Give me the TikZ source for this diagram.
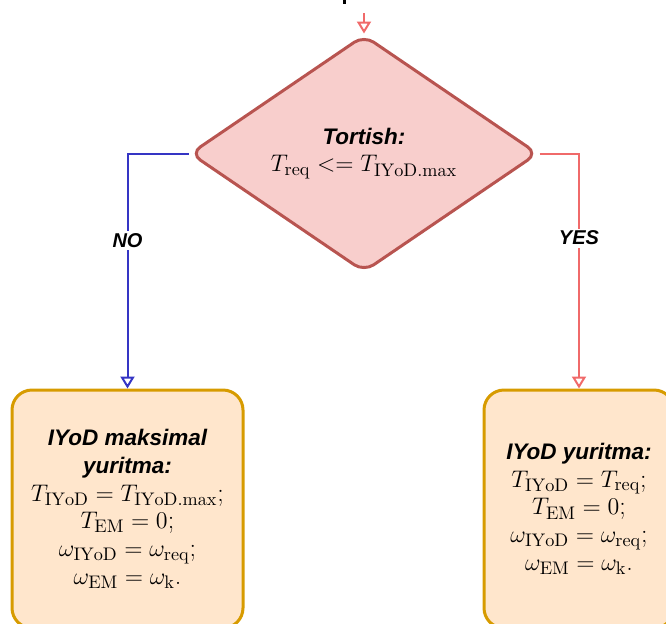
\documentclass[tikz,border=0pt]{standalone}
\usepackage{fontspec}
\setsansfont{Liberation Sans}
\usetikzlibrary{arrows.meta,shapes.geometric}

\definecolor{condfill}{HTML}{F8CECC}
\definecolor{conddraw}{HTML}{B85450}
\definecolor{boxfill}{HTML}{FFE6CC}
\definecolor{boxdraw}{HTML}{D79B00}
\definecolor{noblue}{HTML}{3535C4}
\definecolor{yesred}{HTML}{F06A6A}

\newcommand{\flowfont}{\fontsize{15.6}{16.6}\selectfont\lineskiplimit=-20pt\relax}
\newcommand{\boxtitle}[1]{{\fontsize{13.5}{16.2}\selectfont\sffamily\bfseries\itshape #1}}

\tikzset{
	condnode/.style={diamond, shape aspect=1.47, draw=conddraw, fill=condfill, line width=1.8pt, rounded corners=7pt, minimum width=208.8pt, minimum height=142.2pt, align=center, inner sep=0pt},
	resbox/.style={rectangle, draw=boxdraw, fill=boxfill, line width=1.8pt, rounded corners=12pt, minimum height=142.8pt, align=center, inner sep=2pt},
	flowline/.style={line width=1.2pt, -{Triangle[open, width=8.4pt, length=7.2pt]}},
	branchlabel/.style={fill=white, text=black, font=\fontsize{12}{14}\selectfont\sffamily\bfseries\itshape, inner sep=1.5pt}
}

\begin{document}
\begin{tikzpicture}[x=0.6pt, y=-0.6pt, font=\flowfont]
		%%%%% START %%%%%
		\useasboundingbox (0, 0) rectangle (666, 623);
		
		\fill (343, 0) rectangle (346, 4);
		\coordinate (entry) at (364, 13);
		
		\node[condnode] (cond) at (364, 153.5) {\boxtitle{Tortish:}\\ $T_{\mathrm{req}} <= T_{\mathrm{IYoD.max}}$};
		
		\node[resbox, minimum width=138.6pt] (noBox) at (127.5, 509) {\boxtitle{IYoD maksimal}\\ \boxtitle{yuritma:}\\
			$T_{\mathrm{IYoD}} = T_{\mathrm{IYoD.max}}$;\\ $T_{\mathrm{EM}} = 0$;\\
			$\omega_{\mathrm{IYoD}} = \omega_{\mathrm{req}}$;\\ $\omega_{\mathrm{EM}} = \omega_{\mathrm{k}}$.};
		\node[resbox, minimum width=114pt] (yesBox) at (579, 509) {\boxtitle{IYoD yuritma:}\\
			$T_{\mathrm{IYoD}} = T_{\mathrm{req}}$;\\ $T_{\mathrm{EM}} = 0$;\\
			$\omega_{\mathrm{IYoD}} = \omega_{\mathrm{req}}$;\\ $\omega_{\mathrm{EM}} = \omega_{\mathrm{k}}$.};
		
		\draw[flowline, yesred] (entry) -- (cond.north);
		\draw[flowline, noblue] (cond.west) -| (noBox.north) node[branchlabel, pos=0.685] {NO};
		\draw[flowline, yesred] (cond.east) -| (yesBox.north) node[branchlabel, pos=0.68] {YES};
		
		%%%%% END %%%%%
	\end{tikzpicture}
\end{document}
